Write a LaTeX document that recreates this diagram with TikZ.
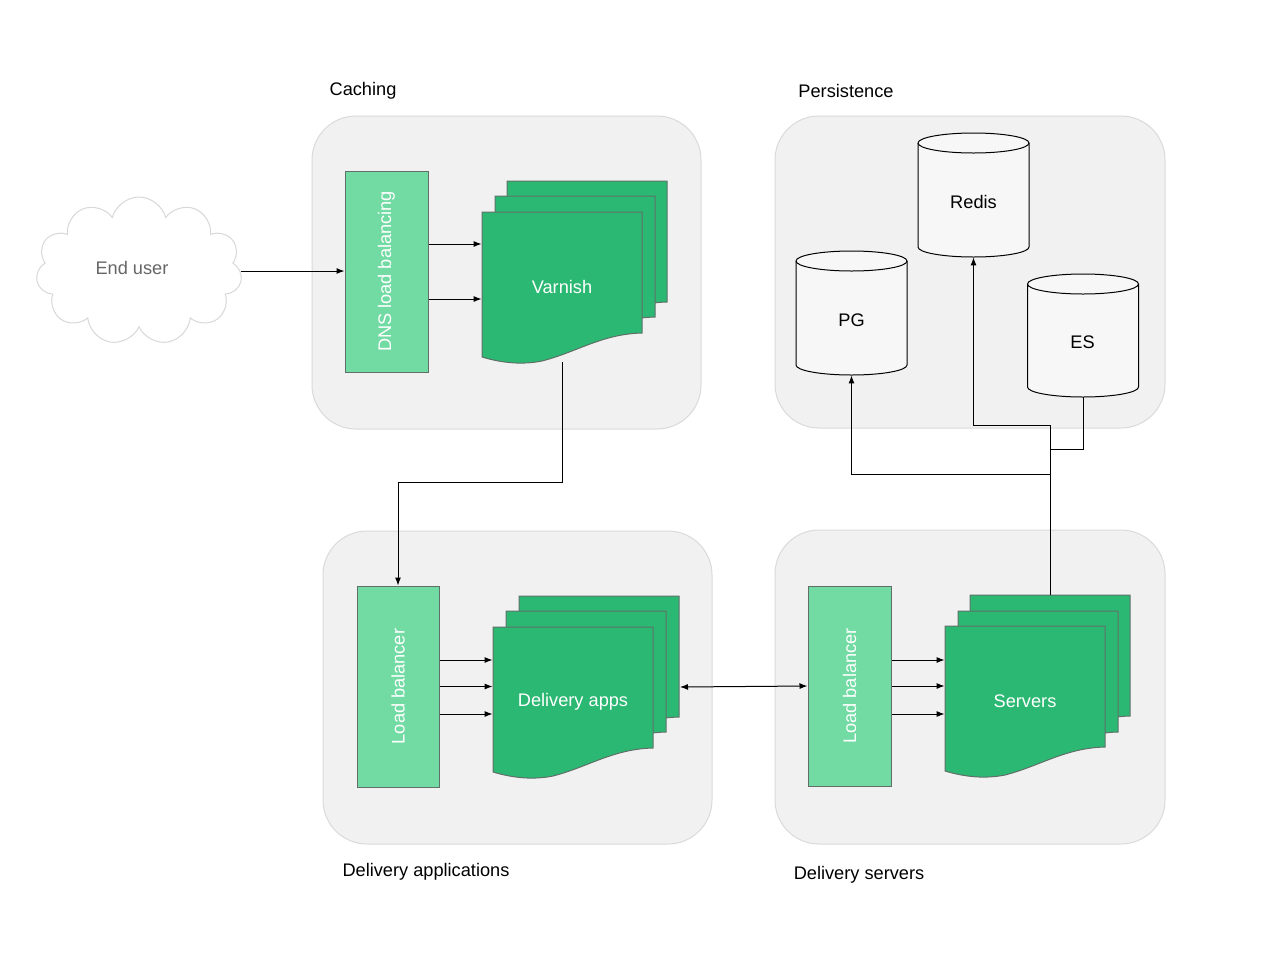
\documentclass[tikz,border=0pt]{standalone}
\usepackage{fontspec}
\setmainfont{Liberation Sans}
\usetikzlibrary{arrows.meta,shapes.symbols,calc}
\definecolor{contfill}{HTML}{F1F1F1}
\definecolor{contline}{HTML}{DADADA}
\definecolor{dkgreen}{HTML}{2BB873}
\definecolor{ltgreen}{HTML}{72DBA3}
\definecolor{shpline}{HTML}{607068}
\definecolor{cylfill}{HTML}{F7F7F7}
\definecolor{cloudline}{HTML}{D8D8D8}
\definecolor{cloudtext}{HTML}{666666}
\newcommand{\docshape}[2]{%
  \begin{scope}[shift={(#1,#2)}]
    \filldraw[doc] (0,0) -- (160,0) -- (160,121)
      .. controls (120,122) and (95,140) .. (60,149)
      .. controls (40,153) and (20,151) .. (0,145) -- cycle;
  \end{scope}}
\newcommand{\dbcyl}[4]{%
  \filldraw[cyl] (#2-55.5,#3+10) -- (#2-55.5,#4-10)
    arc[start angle=180,end angle=360,x radius=27.75pt,y radius=5pt]
    -- (#2+55.5,#3+10)
    arc[start angle=0,end angle=180,x radius=27.75pt,y radius=5pt] -- cycle;
  \draw[cyl,fill=none] (#2-55.5,#3+10)
    arc[start angle=180,end angle=360,x radius=27.75pt,y radius=5pt];
  \node[minimum width=55.5pt,minimum height={(#4-#3)*0.5pt},inner sep=0pt] (#1) at (#2,{(#3+#4)/2}) {};}
\begin{document}
\begin{tikzpicture}[x=0.5pt,y=-0.5pt,
  font=\fontsize{9.1pt}{11pt}\selectfont,
  container/.style={draw=contline,fill=contfill,line width=0.5pt,rounded corners=22pt,inner sep=0pt},
  grouplabel/.style={inner sep=0pt,text=black},
  lbbox/.style={draw=shpline,fill=ltgreen,line width=0.5pt,inner sep=0pt},
  doc/.style={draw=shpline,fill=dkgreen,line width=0.5pt},
  whitetxt/.style={text=white,inner sep=0pt},
  conn/.style={line width=0.5pt,black},
  arr/.style={conn,-{Latex[length=4pt,width=3pt]}},
  cyl/.style={draw=black,fill=cylfill,line width=0.5pt},
]
\useasboundingbox (0,0) rectangle (1280,960);
\fill[white] (0,0) rectangle (1280,960);

% containers
\node[container,minimum width=194.5pt,minimum height=156.5pt] (caching) at (506.5,272.5) {};
\node[container,minimum width=195pt,minimum height=156pt] (persist) at (970,272) {};
\node[container,minimum width=194.5pt,minimum height=156.5pt] (delapps) at (517.5,687.5) {};
\node[container,minimum width=195pt,minimum height=157pt] (delsrv) at (970,687) {};

% group labels
\node[grouplabel] (lcaching) at (363,91) {Caching};
\node[grouplabel] (lpersist) at (846,91) {Persistence};
\node[grouplabel] (lapps) at (426,872) {Delivery applications};
\node[grouplabel] (lsrv) at (859,875) {Delivery servers};

% end user cloud
\node[cloud,cloud puffs=11,aspect=1.4,draw=cloudline,fill=white,line width=0.5pt,
      minimum width=103pt,minimum height=74pt,inner sep=0pt] (user) at (139,271) {};
\node[text=cloudtext,inner sep=0pt] (usertxt) at (132,268) {End user};

% caching
\node[lbbox,minimum width=41.5pt,minimum height=100.5pt] (dns) at (386.5,271.5) {};
\node[whitetxt,rotate=90] (dnstxt) at (dns) {DNS load balancing};
\docshape{507}{181}
\docshape{495}{196}
\docshape{482}{212}
\node[whitetxt,minimum width=80pt,minimum height=75pt] (varnish) at (562,287) {Varnish};

% delivery apps
\node[lbbox,minimum width=41pt,minimum height=100.5pt] (applb) at (398,686.5) {};
\node[whitetxt,rotate=90] (applbtxt) at (applb) {Load balancer};
\docshape{519}{596}
\docshape{506}{611}
\docshape{493}{627}
\node[whitetxt,minimum width=80pt,minimum height=75pt] (apps) at (573,702) {Delivery apps};
\coordinate (appsR) at (680,687);

% delivery servers
\node[lbbox,minimum width=41.5pt,minimum height=100pt] (srvlb) at (849.5,686) {};
\node[whitetxt,rotate=90] (srvlbtxt) at (srvlb) {Load balancer};
\docshape{970}{595}
\docshape{958}{611}
\docshape{945}{626}
\node[whitetxt,minimum width=80pt,minimum height=75pt] (servers) at (1025,701) {Servers};
\coordinate (srvtop) at (1050,595);

% persistence
\dbcyl{redis}{973.5}{133}{257}
\node[inner sep=0pt] (redistxt) at (973.5,202) {Redis};
\dbcyl{pg}{851.5}{251}{375}
\node[inner sep=0pt] (pgtxt) at (851.5,320) {PG};
\dbcyl{es}{1083}{274}{397}
\node[inner sep=0pt] (estxt) at (1082.5,342) {ES};

% connectors
\draw[arr] (user.east) -- (user.east -| dns.west);
\path ([yshift=13.75pt]dns.east) coordinate (d1) ([yshift=-13.75pt]dns.east) coordinate (d2);
\draw[arr] (d1) -- (d1 -| varnish.west);
\draw[arr] (d2) -- (d2 -| varnish.west);
\draw[arr] (varnish.south) -- ++(0,120) -| (applb.north);

\path ([yshift=13.25pt]applb.east) coordinate (a1) (applb.east) coordinate (a2) ([yshift=-13.75pt]applb.east) coordinate (a3);
\draw[arr] (a1) -- (a1 -| apps.west);
\draw[arr] (a2) -- (a2 -| apps.west);
\draw[arr] (a3) -- (a3 -| apps.west);

\draw[conn,{Latex[length=4pt,width=3pt]}-{Latex[length=4pt,width=3pt]}] (appsR) -- (srvlb.west);

\path ([yshift=13pt]srvlb.east) coordinate (s1) (srvlb.east) coordinate (s2) ([yshift=-14pt]srvlb.east) coordinate (s3);
\draw[arr] (s1) -- (s1 -| servers.west);
\draw[arr] (s2) -- (s2 -| servers.west);
\draw[arr] (s3) -- (s3 -| servers.west);

\draw[arr] (srvtop) -- ++(0,-170) -| (redis.south);
\draw[arr] (srvtop) -- ++(0,-121) -| (pg.south);
\draw[conn] (es.south) -- ++(0,52) -| (srvtop);
\end{tikzpicture}
\end{document}
